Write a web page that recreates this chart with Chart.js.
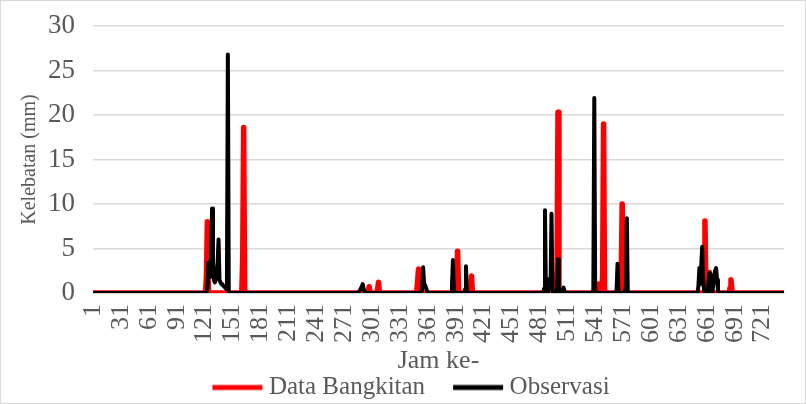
<!DOCTYPE html>
<html>
<head>
<meta charset="utf-8">
<script src="https://cdn.jsdelivr.net/npm/chart.js@4"></script>
<style>
  html, body { margin: 0; padding: 0; background: #ffffff; }
  #wrap { position: relative; width: 806px; height: 404px; outline: 1px solid #d9d9d9; outline-offset: -1px; }
</style>
</head>
<body>
<div id="wrap"><canvas id="c" width="806" height="404"></canvas></div>
<script>
// ---- data (hours 1..744; hours not listed are 0) ----
const totalHours = 744;
const xTickLabels = [1, 31, 61, 91, 121, 151, 181, 211, 241, 271, 301, 331, 361, 391, 421, 451, 481, 511, 541, 571, 601, 631, 661, 691, 721];
const yTickValues = [0, 5, 10, 15, 20, 25, 30];

const seriesNames = ["Data Bangkitan", "Observasi"];

// Data Bangkitan (red) : non-zero hours and values
const genHours  = [123, 124, 125, 162, 163, 164, 298, 307, 308, 350, 351, 352, 392, 393, 394, 407, 408, 500, 501, 502, 545, 546, 549, 550, 551, 569, 570, 571, 659, 660, 664, 686, 687, 688];
const genValues = [2.0, 8.0, 0.5, 4.0, 18.6, 0.5, 0.7, 0.4, 1.2, 1.2, 2.7, 0.4, 1.5, 4.7, 0.4, 0.8, 1.9, 3.0, 20.3, 0.5, 1.0, 0.6, 2.0, 19.0, 0.5, 2.0, 10.0, 0.5, 8.1, 1.0, 2.3, 0.6, 1.5, 0.3];

// Observasi (black) : non-zero hours and values
const obsHours  = [124, 125, 126, 127, 128, 129, 130, 131, 132, 133, 134, 135, 136, 137, 138, 139, 140, 141, 142, 143, 144, 145, 146,
                   288, 289, 290, 291, 292, 293, 355, 356, 357, 358, 359, 360, 387, 388, 389, 401, 402, 403,
                   486, 487, 488, 491, 492, 493, 494, 495, 500, 501, 502, 503, 506, 507, 508,
                   539, 540, 541, 564, 565, 566, 574, 575, 576,
                   652, 653, 654, 655, 656, 657, 658, 661, 663, 664, 665, 666, 668, 669, 670, 671, 672, 673];
const obsValues = [0.5, 3.4, 3.3, 1.8, 4.5, 9.5, 3.0, 1.5, 1.2, 1.5, 2.5, 3.5, 6.0, 1.5, 1.2, 1.0, 1.0, 0.8, 0.8, 0.6, 0.5, 0.8, 26.8,
                   0.3, 0.5, 0.7, 1.0, 0.5, 0.2, 0.5, 2.9, 1.0, 0.9, 0.9, 0.3, 0.8, 3.7, 0.4, 0.4, 3.0, 0.3,
                   0.5, 9.3, 0.3, 0.6, 1.6, 0.8, 8.9, 0.4, 0.5, 3.8, 0.6, 0.3, 0.3, 0.6, 0.2,
                   0.4, 21.9, 0.3, 0.4, 3.3, 0.3, 0.5, 8.4, 0.3,
                   0.8, 2.8, 1.0, 3.0, 5.2, 1.5, 0.3, 0.4, 1.5, 2.3, 2.0, 0.5, 1.0, 2.0, 2.5, 2.8, 1.5, 0.3];

// ---- build full hourly series from the sparse lists ----
function buildSeries(hours, values) {
  const map = new Map();
  hours.forEach((h, i) => map.set(h, values[i]));
  const pts = [];
  for (let h = 1; h <= totalHours; h++) pts.push({ x: h, y: map.has(h) ? map.get(h) : 0 });
  return pts;
}

const FONT = "'Liberation Serif', 'Times New Roman', serif";
const TXT = '#595959';
const RED = '#ff0000';
const BLACK = '#000000';

// legend line marker (drawn as an image so the line sits close to its text)
const LEG_BOX = 64;
function legendLine(color) {
  const c = document.createElement('canvas');
  c.width = 160; c.height = 10;
  const g = c.getContext('2d');
  g.strokeStyle = color; g.lineWidth = 5;
  g.beginPath();
  g.moveTo(48 + 20, 5); g.lineTo(48 + 70, 5);
  g.stroke();
  return c;
}
const legendMarks = [legendLine(BLACK), legendLine(RED)];

// tighten the legend box so it sits closer to the bottom edge
const legendTighten = {
  id: 'legendTighten',
  beforeLayout(chart) {
    const lg = chart.legend;
    if (lg && !lg._tight) {
      const orig = lg.fit.bind(lg);
      lg.fit = function () { orig(); this.height -= 6; };
      lg._tight = true;
    }
  }
};

new Chart(document.getElementById('c'), {
  type: 'line',
  data: {
    datasets: [
      {
        label: seriesNames[1],
        data: buildSeries(obsHours, obsValues),
        borderColor: BLACK,
        backgroundColor: BLACK,
        borderWidth: 4,
        pointRadius: 0,
        tension: 0,
        borderJoinStyle: 'round',
        borderCapStyle: 'round'
      },
      {
        label: seriesNames[0],
        data: buildSeries(genHours, genValues),
        borderColor: RED,
        backgroundColor: RED,
        borderWidth: 5.5,
        pointRadius: 0,
        tension: 0,
        borderJoinStyle: 'round',
        borderCapStyle: 'round'
      }
    ]
  },
  plugins: [legendTighten],
  options: {
    responsive: false,
    animation: false,
    events: [],
    layout: { padding: { left: 18, right: 22, top: 0, bottom: 0 } },
    plugins: {
      tooltip: { enabled: false },
      legend: {
        position: 'bottom',
        reverse: true,
        labels: {
          usePointStyle: true,
          pointStyleWidth: LEG_BOX,
          boxHeight: 25,
          padding: 8,
          color: TXT,
          font: { family: FONT, size: 25 },
          generateLabels: (chart) => {
            const items = Chart.defaults.plugins.legend.labels.generateLabels(chart);
            items.forEach(it => { it.pointStyle = legendMarks[it.datasetIndex]; });
            return items;
          }
        }
      }
    },
    scales: {
      x: {
        type: 'linear',
        min: 1,
        max: totalHours,
        afterBuildTicks: (scale) => { scale.ticks = xTickLabels.map(v => ({ value: v })); },
        grid: { display: false },
        border: { display: true, color: '#d9d9d9' },
        ticks: {
          autoSkip: false,
          minRotation: 90,
          maxRotation: 90,
          padding: 3,
          color: TXT,
          font: { family: FONT, size: 26 }
        },
        title: {
          display: true,
          text: 'Jam ke-',
          color: TXT,
          font: { family: FONT, size: 26, lineHeight: 1.0 },
          padding: { top: 2, bottom: -7 }
        }
      },
      y: {
        min: 0,
        max: 30,
        afterBuildTicks: (scale) => { scale.ticks = yTickValues.map(v => ({ value: v })); },
        afterFit: (scale) => { scale.paddingTop = 26; },
        grid: { color: '#d9d9d9', lineWidth: 1.5, drawTicks: false },
        border: { display: false },
        ticks: {
          padding: 18,
          color: TXT,
          font: { family: FONT, size: 27 }
        },
        title: {
          display: true,
          text: 'Kelebatan (mm)',
          color: TXT,
          font: { family: FONT, size: 20 },
          padding: { top: 0, bottom: -12 }
        }
      }
    }
  }
});
</script>
</body>
</html>
